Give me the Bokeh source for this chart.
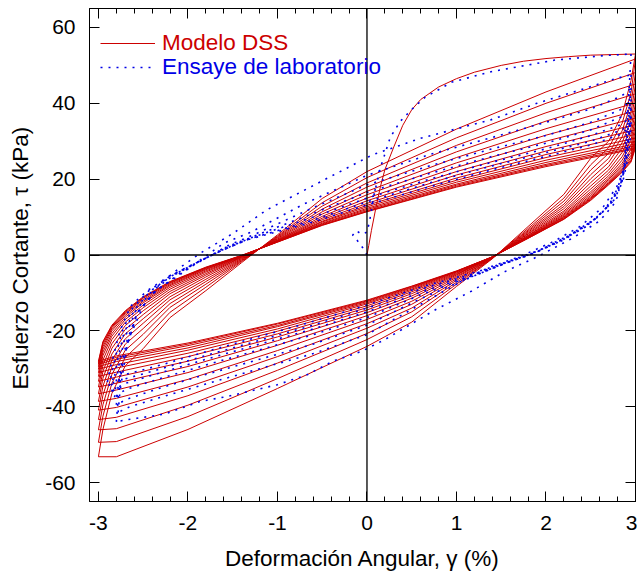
from bokeh.plotting import figure
from bokeh.models import (Range1d, LinearAxis, SingleIntervalTicker, Span,
                          Legend, LegendItem, CustomJSTickFormatter)
from bokeh.embed import file_html
from bokeh.resources import INLINE

RED = "#CC0000"
BLUE = "#0000E6"
FONT = "Liberation Sans"

# ---------------- Modelo DSS (red) ----------------
backbone_x = [0.0, 0.02, 0.05, 0.1, 0.15, 0.2, 0.3, 0.4, 0.5, 0.6, 0.8, 1.0, 1.2, 1.5, 1.75, 2.0, 2.25, 2.5, 3.0]
backbone_y = [0.0, 2.5, 6.5, 12.5, 18.0, 22.5, 28.5, 34.2, 38.3, 41.0, 44.3, 46.5, 48.2, 50.0, 51.1, 51.8, 52.3, 52.7, 53.0]

# loading branches (strain increasing, from -3 % to +3 %)
load_x = [-3.0, -2.95, -2.85, -2.7, -2.5, -2.2, -1.8, -1.4, -1.0, -0.5, 0.0, 1.0, 2.0, 3.0]
load_y = [
    [-53.2, -46.0, -36.5, -29.2, -24.7, -16.5, -9.4, -2.0, 5.3, 14.9, 22.0, 33.2, 43.0, 51.7],
    [-49.4, -42.5, -33.8, -27.0, -22.6, -15.1, -8.5, -1.7, 5.0, 13.8, 20.4, 30.9, 40.0, 48.1],
    [-46.1, -39.5, -31.5, -25.1, -20.9, -13.8, -7.7, -1.5, 4.8, 12.9, 19.0, 28.9, 37.5, 45.1],
    [-43.4, -37.0, -29.5, -23.5, -19.4, -12.8, -7.0, -1.3, 4.6, 12.1, 17.9, 27.2, 35.3, 42.5],
    [-40.9, -34.6, -27.7, -22.1, -18.0, -11.8, -6.4, -1.1, 4.4, 11.4, 16.8, 25.7, 33.3, 40.1],
    [-38.6, -32.5, -26.1, -20.8, -16.8, -11.0, -5.8, -0.9, 4.2, 10.8, 15.9, 24.3, 31.6, 38.0],
    [-36.6, -30.7, -24.6, -19.6, -15.7, -10.2, -5.3, -0.7, 4.0, 10.2, 15.0, 23.1, 30.0, 36.1],
    [-34.8, -29.1, -23.4, -18.6, -14.7, -9.6, -4.9, -0.6, 3.9, 9.7, 14.3, 22.0, 28.6, 34.4],
    [-33.3, -27.7, -22.3, -17.7, -13.9, -9.0, -4.5, -0.5, 3.8, 9.3, 13.6, 21.1, 27.4, 33.0],
    [-32.0, -26.5, -21.4, -17.0, -13.2, -8.5, -4.2, -0.4, 3.7, 8.9, 13.1, 20.3, 26.5, 31.8],
    [-31.0, -25.6, -20.7, -16.4, -12.6, -8.1, -3.9, -0.3, 3.6, 8.7, 12.7, 19.7, 25.7, 30.8],
    [-30.1, -24.8, -20.0, -15.9, -12.2, -7.8, -3.7, -0.3, 3.6, 8.4, 12.3, 19.2, 25.0, 30.0],
    [-29.4, -24.1, -19.5, -15.5, -11.8, -7.5, -3.5, -0.2, 3.5, 8.2, 12.0, 18.7, 24.4, 29.3],
    [-28.8, -23.5, -19.1, -15.2, -11.4, -7.3, -3.4, -0.2, 3.5, 8.0, 11.7, 18.4, 23.9, 28.8],
    [-28.4, -23.1, -18.8, -14.9, -11.2, -7.1, -3.3, -0.1, 3.4, 7.9, 11.5, 18.1, 23.6, 28.3],
    [-28.0, -22.8, -18.5, -14.7, -11.0, -7.0, -3.2, -0.1, 3.4, 7.8, 11.4, 17.9, 23.3, 28.0],
]

# unloading branches (strain decreasing, from +3 % to -3 %)
unload_x = [3.0, 2.95, 2.85, 2.7, 2.5, 2.2, 1.8, 1.4, 1.0, 0.5, 0.0, -1.0, -2.0, -2.8, -3.0]
unload_y = [
    [53.0, 46.0, 37.0, 30.0, 25.5, 16.0, 7.5, -1.0, -8.3, -17.7, -24.1, -35.2, -46.0, -53.2, -53.2],
    [51.7, 42.8, 34.7, 28.3, 23.8, 15.0, 7.0, -0.9, -7.7, -16.3, -22.3, -32.6, -42.6, -49.2, -49.4],
    [48.1, 40.0, 32.7, 26.8, 22.4, 14.2, 6.6, -0.9, -7.2, -15.0, -20.7, -30.4, -39.6, -45.8, -46.1],
    [45.1, 37.6, 31.1, 25.5, 21.2, 13.4, 6.3, -0.8, -6.7, -14.0, -19.3, -28.5, -37.1, -42.8, -43.4],
    [42.5, 35.5, 29.6, 24.4, 20.1, 12.8, 6.0, -0.8, -6.3, -13.0, -18.1, -26.8, -34.8, -40.2, -40.9],
    [40.1, 33.5, 28.2, 23.3, 19.1, 12.2, 5.7, -0.7, -5.9, -12.2, -17.0, -25.2, -32.8, -37.8, -38.6],
    [38.0, 31.8, 27.0, 22.4, 18.2, 11.6, 5.5, -0.7, -5.6, -11.4, -16.0, -23.8, -31.0, -35.6, -36.6],
    [36.1, 30.3, 25.9, 21.6, 17.4, 11.2, 5.2, -0.6, -5.3, -10.8, -15.2, -22.6, -29.4, -33.8, -34.8],
    [34.4, 29.0, 25.0, 20.9, 16.7, 10.8, 5.1, -0.6, -5.1, -10.2, -14.5, -21.6, -28.0, -32.2, -33.3],
    [33.0, 27.9, 24.2, 20.3, 16.2, 10.5, 4.9, -0.6, -4.9, -9.7, -13.9, -20.8, -26.8, -30.9, -32.0],
    [31.8, 27.1, 23.6, 19.9, 15.7, 10.2, 4.8, -0.6, -4.7, -9.3, -13.4, -20.1, -25.9, -29.8, -31.0],
    [30.8, 26.3, 23.1, 19.5, 15.3, 10.0, 4.7, -0.5, -4.5, -9.0, -12.9, -19.5, -25.1, -28.9, -30.1],
    [30.0, 25.7, 22.6, 19.1, 15.0, 9.8, 4.6, -0.5, -4.4, -8.7, -12.6, -18.9, -24.5, -28.1, -29.4],
    [29.3, 25.2, 22.3, 18.9, 14.8, 9.6, 4.5, -0.5, -4.3, -8.5, -12.3, -18.6, -23.9, -27.5, -28.8],
    [28.8, 24.8, 22.0, 18.7, 14.6, 9.5, 4.4, -0.5, -4.3, -8.3, -12.1, -18.2, -23.5, -27.0, -28.4],
    [28.3, 24.5, 21.8, 18.5, 14.4, 9.4, 4.4, -0.5, -4.2, -8.2, -11.9, -18.0, -23.2, -26.6, -28.0],
]

# ---------------- Ensaye de laboratorio (blue) ----------------
lab_x = [
    [0.0, -0.05, -0.12, -0.16, -0.12, -0.06, 0.0, 0.03, 0.08, 0.15, 0.26, 0.37, 0.5, 0.65, 0.95, 1.4, 2.1, 2.66, 2.95],
    [2.95, 2.92, 2.87, 2.78, 2.6, 2.3, 1.9, 1.53, 1.17, 0.76, 0.2, -0.06, -0.38, -0.67, -1.0, -1.56, -1.86, -2.27, -2.7, -2.8],
    [-2.8, -2.78, -2.74, -2.66, -2.5, -2.31, -2.1, -1.86, -1.49, -1.12, -0.52, 0.06, 0.6, 1.38, 1.9, 2.38, 2.79, 2.95],
    [2.95, 2.92, 2.87, 2.79, 2.64, 2.38, 2.08, 1.71, 1.38, 1.15, 0.6, 0.0, -0.6, -1.2, -1.8, -2.3, -2.65, -2.78],
    [-2.78, -2.76, -2.72, -2.68, -2.57, -2.35, -2.12, -1.86, -1.6, -1.3, -0.7, 0.0, 0.7, 1.4, 2.0, 2.5, 2.85, 2.95],
    [2.95, 2.92, 2.88, 2.8, 2.66, 2.45, 2.15, 1.8, 1.5, 1.2, 0.6, 0.0, -0.6, -1.2, -1.8, -2.3, -2.68, -2.8],
    [-2.8, -2.78, -2.74, -2.68, -2.56, -2.36, -2.1, -1.85, -1.55, -1.25, -0.6, 0.0, 0.7, 1.4, 2.0, 2.5, 2.85, 2.95],
    [2.95, 2.93, 2.89, 2.82, 2.7, 2.5, 2.2, 1.85, 1.55, 1.25, 0.6, 0.0, -0.6, -1.2, -1.8, -2.3, -2.7, -2.82],
    [-2.82, -2.8, -2.76, -2.7, -2.58, -2.4, -2.15, -1.88, -1.58, -1.28, -0.6, 0.0, 0.7, 1.4, 2.0, 2.5, 2.85, 2.95],
    [2.95, 2.93, 2.9, 2.84, 2.72, 2.52, 2.22, 1.88, 1.58, 1.28, 0.6, 0.0, -0.6, -1.2, -1.8, -2.3, -2.72, -2.85],
    [-2.85, -2.82, -2.78, -2.72, -2.6, -2.42, -2.18, -1.9, -1.6, -1.3, -0.6, 0.0, 0.7, 1.4, 2.0, 2.5, 2.85, 2.95],
    [2.95, 2.93, 2.9, 2.85, 2.74, 2.55, 2.25, 1.9, 1.6, 1.3, 0.6, 0.0, -0.6, -1.2, -1.8, -2.3, -2.75, -2.88],
    [-2.88, -2.85, -2.8, -2.74, -2.62, -2.44, -2.2, -1.92, -1.62, -1.32, -0.6, 0.0, 0.7, 1.4, 2.0, 2.5, 2.85, 2.95],
    [2.95, 2.94, 2.91, 2.86, 2.76, 2.58, 2.28, 1.92, 1.62, 1.32, 0.6, 0.0, -0.6, -1.2, -1.8, -2.3, -2.78, -2.9],
    [-2.9, -2.87, -2.82, -2.76, -2.64, -2.46, -2.22, -1.94, -1.64, -1.34, -0.6, 0.0, 0.7, 1.4, 2.0, 2.5, 2.85, 2.95],
]
lab_y = [
    [0.0, 2.0, 4.2, 5.2, 6.4, 5.5, 6.0, 9.0, 16.0, 23.0, 31.0, 35.2, 38.4, 41.6, 45.6, 48.4, 51.4, 52.6, 53.0],
    [53.0, 40.0, 22.0, 14.0, 9.0, 4.5, -0.5, -4.5, -9.5, -14.5, -22.3, -25.4, -28.0, -31.6, -34.2, -37.3, -38.6, -42.0, -43.5, -44.0],
    [-44.0, -38.0, -30.0, -22.0, -13.5, -7.5, -3.5, 0.5, 5.8, 11.9, 19.3, 26.4, 30.8, 35.6, 40.0, 43.5, 46.6, 47.5],
    [47.5, 36.0, 22.4, 18.0, 12.7, 7.5, 3.5, -0.4, -3.1, -5.7, -13.0, -21.0, -26.0, -30.0, -34.0, -37.5, -40.0, -41.5],
    [-41.5, -36.0, -30.0, -24.0, -15.4, -9.2, -5.7, -1.3, 3.1, 6.0, 13.5, 21.0, 26.5, 31.0, 35.0, 38.5, 42.0, 44.0],
    [44.0, 34.0, 24.0, 17.5, 12.0, 7.5, 3.5, 0.0, -2.5, -5.5, -11.5, -18.5, -23.5, -27.5, -31.5, -35.0, -38.0, -39.5],
    [-39.5, -34.5, -28.5, -22.5, -15.0, -9.5, -5.0, -1.5, 2.5, 5.5, 12.5, 18.5, 23.5, 28.0, 31.5, 35.0, 38.5, 41.0],
    [41.0, 33.0, 25.0, 18.5, 13.0, 8.5, 4.0, 0.3, -2.2, -5.0, -10.5, -16.5, -21.0, -25.0, -29.0, -32.5, -35.5, -37.5],
    [-37.5, -33.0, -27.5, -21.5, -14.5, -9.5, -5.2, -1.8, 2.0, 4.8, 11.0, 16.5, 21.5, 26.0, 29.5, 33.0, 36.5, 38.5],
    [38.5, 32.0, 25.5, 19.0, 13.5, 9.0, 4.5, 0.6, -1.9, -4.6, -9.8, -15.0, -19.5, -23.5, -27.5, -31.0, -34.0, -36.0],
    [-36.0, -32.0, -27.0, -21.0, -14.5, -9.5, -5.5, -2.0, 1.5, 4.5, 10.0, 15.0, 20.0, 24.5, 28.0, 31.5, 34.5, 36.5],
    [36.5, 31.0, 25.5, 19.5, 14.0, 9.5, 5.0, 0.9, -1.6, -4.2, -9.0, -14.0, -18.5, -22.5, -26.5, -30.0, -33.0, -34.5],
    [-34.5, -31.0, -26.0, -20.5, -14.0, -9.5, -5.6, -2.2, 1.2, 4.2, 9.2, 14.0, 19.0, 23.5, 27.0, 30.0, 33.0, 35.0],
    [35.0, 30.0, 25.0, 19.5, 14.5, 10.0, 5.5, 1.2, -1.3, -3.8, -8.5, -13.2, -17.5, -21.5, -25.5, -29.0, -32.0, -33.5],
    [-33.5, -30.0, -25.5, -20.0, -13.5, -9.5, -5.7, -2.4, 1.0, 4.0, 8.7, 13.2, 18.0, 22.5, 26.0, 29.0, 32.0, 34.0],
]

x_ticks_interval = 1
y_ticks_interval = 20

# ---------------- figure ----------------
p = figure(width=637, height=575, x_range=Range1d(-3.1, 3.0), y_range=Range1d(-65, 65),
           output_backend="svg", toolbar_location=None,
           min_border_left=89, min_border_right=2, min_border_top=8, min_border_bottom=74)
p.xgrid.grid_line_color = None
p.ygrid.grid_line_color = None
p.outline_line_color = "black"
p.outline_line_width = 1
p.background_fill_color = "white"
p.border_fill_color = "white"

model_xs = [backbone_x] + [load_x] * len(load_y) + [unload_x] * len(unload_y)
model_ys = [backbone_y] + load_y + unload_y
red_r = p.multi_line(model_xs, model_ys, line_color=RED, line_width=1)
blue_r = p.multi_line(lab_x, lab_y, line_color=BLUE, line_width=1.6, line_dash="2 6")

p.add_layout(Span(location=0, dimension="width", line_color="black", line_width=1.3))
p.add_layout(Span(location=0, dimension="height", line_color="black", line_width=1.3))


def style_axis(ax, interval, minor, labels=True):
    ax.ticker = SingleIntervalTicker(interval=interval, num_minor_ticks=minor)
    ax.major_tick_in = 10
    ax.major_tick_out = 0
    ax.minor_tick_in = 5
    ax.minor_tick_out = 0
    if minor == 0:
        ax.minor_tick_line_color = None
    ax.axis_line_color = "black"
    ax.major_tick_line_color = "black"
    ax.major_label_text_font = FONT
    ax.major_label_text_font_size = "21px"
    ax.major_label_text_color = "black"
    ax.major_label_standoff = 14
    ax.axis_label_text_font = FONT
    ax.axis_label_text_font_size = "22.5px"
    ax.axis_label_text_font_style = "normal"
    ax.axis_label_text_color = "black"
    if labels:
        ax.formatter = CustomJSTickFormatter(code="return tick.toFixed(0)")
    else:
        ax.formatter = CustomJSTickFormatter(code="return ''")
        ax.major_label_standoff = 0


style_axis(p.xaxis[0], x_ticks_interval, 5)
style_axis(p.yaxis[0], y_ticks_interval, 0)
p.xaxis[0].axis_label = "Deformación Angular, γ (%)"
p.xaxis[0].axis_label_standoff = 13
p.yaxis[0].axis_label = "Esfuerzo Cortante, τ  (kPa)"
p.yaxis[0].axis_label_standoff = 9

top = LinearAxis()
style_axis(top, x_ticks_interval, 5, labels=False)
p.add_layout(top, "above")
right = LinearAxis()
style_axis(right, y_ticks_interval, 0, labels=False)
p.add_layout(right, "right")


def make_legend(label, renderer, color, y):
    lg = Legend(items=[LegendItem(label=label, renderers=[renderer])], location=(11, y),
                orientation="vertical", padding=0, margin=0, spacing=0,
                glyph_width=55, glyph_height=20, label_height=20, label_standoff=7,
                label_text_font=FONT, label_text_font_size="22.5px", label_text_color=color,
                border_line_color=None, background_fill_alpha=0)
    p.add_layout(lg, "center")


make_legend("Modelo DSS", red_r, RED, 445)
make_legend("Ensaye de laboratorio", blue_r, BLUE, 421)

open("out.html", "w").write(file_html(p, INLINE))
